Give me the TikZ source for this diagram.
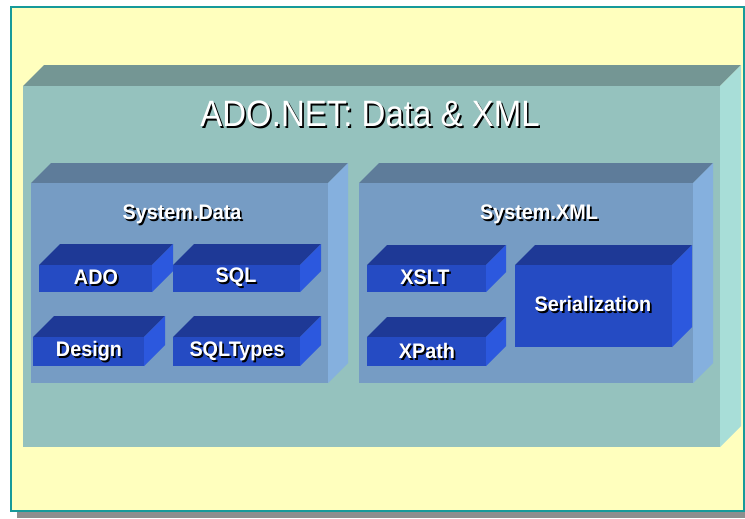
\documentclass[tikz,border=0pt]{standalone}
\usepackage{fontspec}
\setmainfont{Liberation Sans}
\newfontfamily\titlefont[FakeStretch=0.9]{Liberation Sans}
\newfontfamily\labelfont[FakeStretch=0.94]{Liberation Sans Bold}

\definecolor{paper}{HTML}{FFFFBE}
\definecolor{rim}{HTML}{179A9A}
\definecolor{dropgray}{HTML}{8E8E8E}
\definecolor{tealfront}{HTML}{95C2BE}
\definecolor{tealtop}{HTML}{749694}
\definecolor{tealside}{HTML}{A8DED8}
\definecolor{slatefront}{HTML}{769CC4}
\definecolor{slatetop}{HTML}{5E7C9A}
\definecolor{slateside}{HTML}{85B0DE}
\definecolor{bluefront}{HTML}{254BC3}
\definecolor{bluetop}{HTML}{1E3996}
\definecolor{blueside}{HTML}{2C58DE}

% white text with a black drop shadow
\newcommand{\shadowed}[1]{\makebox[0pt][l]{\hspace{1.3pt}\raisebox{-1.3pt}{\color{black}#1}}{\color{white}#1}}

% block: front corners (#1,#2) and (#3,#4), depth #5, colour set #6
\newcommand{\block}[6]{%
	\fill[#6top] (#1,#2) -- (#1+#5,#2-#5) -- (#3+#5,#2-#5) -- (#3,#2) -- cycle;
	\fill[#6side] (#3,#2) -- (#3+#5,#2-#5) -- (#3+#5,#4-#5) -- (#3,#4) -- cycle;
	\fill[#6front] (#1,#2) rectangle (#3,#4);
}

\begin{document}
\begin{tikzpicture}[x=0.75pt, y=-0.75pt,
	label/.style={font=\labelfont\fontsize{15.8}{18}\selectfont, inner sep=0pt},
	heading/.style={font=\titlefont\fontsize{27.5}{30}\selectfont, inner sep=0pt}]
	\useasboundingbox (0,0) rectangle (745,518);

	% slide frame
	\fill[dropgray] (17,512) rectangle (745,518);
	\filldraw[fill=paper, draw=rim, line width=1.5pt] (11,7) rectangle (743.5,511);

	% outer block
	\block{23}{86}{720}{447}{21}{teal}
	\node[heading] (title) at (370,115) {\shadowed{ADO.NET: Data \& XML}};

	% System.Data
	\block{31}{183}{328}{383}{20}{slate}
	\node[label] (sysdata) at (182,215) {\shadowed{System.Data}};
	\block{39}{265}{152}{292}{21}{blue}
	\block{173}{265}{300}{292}{21}{blue}
	\block{33}{337}{144}{366}{21}{blue}
	\block{173}{337}{300}{366}{21}{blue}
	\node[label] (ado) at (96,278) {\shadowed{ADO}};
	\node[label] (sql) at (236,278) {\shadowed{SQL}};
	\node[label] (design) at (89,352) {\shadowed{Design}};
	\node[label] (sqltypes) at (237,352) {\shadowed{SQLTypes}};

	% System.XML
	\block{359}{183}{693}{383}{20}{slate}
	\node[label] (sysxml) at (539,215) {\shadowed{System.XML}};
	\block{367}{265}{486}{292}{20}{blue}
	\block{367}{337}{486}{366}{20}{blue}
	\block{515}{265}{672}{347}{20}{blue}
	\node[label] (xslt) at (425,278) {\shadowed{XSLT}};
	\node[label] (xpath) at (427,352) {\shadowed{XPath}};
	\node[label] (serial) at (593,305) {\shadowed{Serialization}};
\end{tikzpicture}
\end{document}
